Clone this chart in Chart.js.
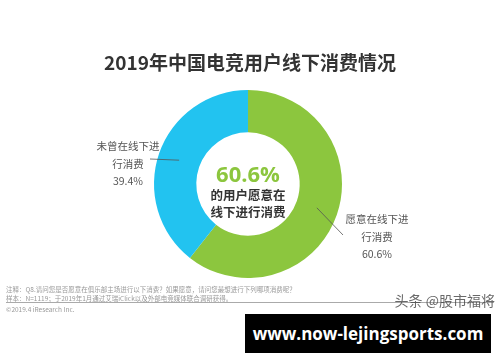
<!DOCTYPE html>
<html>
<head>
<meta charset="utf-8">
<script src="https://cdn.jsdelivr.net/npm/chart.js@4"></script>
<style>
  body { margin: 0; background: #fff; }
  #wrap { position: relative; width: 500px; height: 362px; overflow: hidden; font-family: "Noto Sans CJK SC", "Noto Sans", sans-serif; }
  #chart { position: absolute; left: 0; top: 0; }
  .t { position: absolute; white-space: nowrap; }
  #title { left: 0; width: 500px; top: 48px; text-align: center; font-size: 19px; font-weight: bold; color: #333; }
  #center { left: 198px; width: 100px; top: 160px; text-align: center; }
  #center .pct { font-size: 22px; font-weight: bold; color: #8cc63e; line-height: 26px; font-family: "Open Sans", "Noto Sans", sans-serif; }
  #center .sub { font-size: 12.5px; font-weight: bold; color: #333; line-height: 17px; }
  .lab { font-size: 10.5px; color: #555; line-height: 17.5px; text-align: center; width: 80px; }
  .note { font-size: 6.5px; color: #999; left: 6px; line-height: 8px; }
  #rule { position: absolute; left: 6px; width: 488px; top: 302px; border-top: 1px solid #aaa; }
  #wm { right: 5px; top: 290px; font-size: 14px; color: #444; opacity: 0.8; }
  #box { position: absolute; left: 245px; top: 314px; width: 246px; height: 39px; background: #000; color: #fff; font-family: "Open Sans", "DejaVu Sans", sans-serif; font-weight: bold; font-size: 17px; text-align: center; line-height: 39px; }
</style>
</head>
<body>
<div id="wrap">
  <canvas id="chart" width="500" height="362"></canvas>
  <div class="t" id="title">2019年中国电竞用户线下消费情况</div>
  <div class="t" id="center">
    <div class="pct">60.6%</div>
    <div class="sub">的用户愿意在</div>
    <div class="sub">线下进行消费</div>
  </div>
  <div class="t lab" id="labL" style="left:88px; top:137px;"></div>
  <div class="t lab" id="labR" style="left:337px; top:210px;"></div>
  <div class="t note" style="top:285px;">注释：Q8.请问您是否愿意在俱乐部主场进行以下消费？如果愿意，请问您最想进行下列哪项消费呢？</div>
  <div class="t note" style="top:294px;">样本：N=1119；于2019年1月通过艾瑞iClick以及外部电竞媒体联合调研获得。</div>
  <div id="rule"></div>
  <div class="t note" style="top:305px;">©2019.4 iResearch Inc.</div>
  <div class="t" id="wm">头条 @股市福将</div>
  <div id="box">www.now-lejingsports.com</div>
</div>
<script>
// Data
const labels = ["愿意在线下进行消费", "未曾在线下进行消费"];
const values = [60.6, 39.4];
const colors = ["#8cc63e", "#22c3f0"];

// Side labels
document.getElementById("labR").innerHTML = "愿意在线下进<br>行消费<br>" + values[0].toFixed(1) + "%";
document.getElementById("labL").innerHTML = "未曾在线下进<br>行消费<br>" + values[1].toFixed(1) + "%";

// Leader lines from the middle of each slice
const leaderEnds = [[343, 235], [150, 159]];
const leaders = {
  id: "leaders",
  afterDatasetsDraw(chart) {
    const { ctx } = chart;
    const meta = chart.getDatasetMeta(0);
    ctx.save();
    ctx.strokeStyle = "#555";
    ctx.lineWidth = 0.8;
    meta.data.forEach((arc, i) => {
      const a = (arc.startAngle + arc.endAngle) / 2;
      const r = (arc.innerRadius + arc.outerRadius) / 2;
      ctx.beginPath();
      ctx.moveTo(arc.x + r * Math.cos(a), arc.y + r * Math.sin(a));
      ctx.lineTo(leaderEnds[i][0], leaderEnds[i][1]);
      ctx.stroke();
    });
    ctx.restore();
  }
};

new Chart(document.getElementById("chart"), {
  type: "doughnut",
  data: {
    labels: labels,
    datasets: [{
      data: values,
      backgroundColor: colors,
      borderWidth: 0
    }]
  },
  options: {
    responsive: false,
    animation: false,
    cutout: "55%",
    layout: { padding: { left: 154, right: 158, top: 90, bottom: 84 } },
    plugins: { legend: { display: false }, tooltip: { enabled: false } }
  },
  plugins: [leaders]
});
</script>
</body>
</html>
